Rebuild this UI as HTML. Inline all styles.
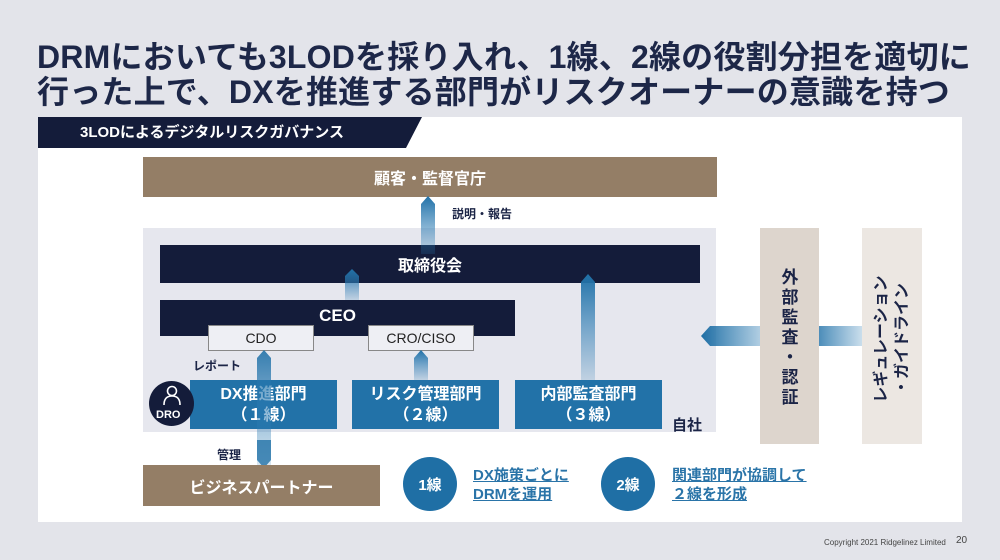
<!DOCTYPE html>
<html><head><meta charset="utf-8"><style>
*{margin:0;padding:0;box-sizing:border-box}
body{width:1000px;height:560px;background:#e3e4ea;position:relative;overflow:hidden;font-family:"Liberation Sans","Noto Sans CJK JP",sans-serif;color:#1b2446}
.a{position:absolute}
.t{font-size:32px;font-weight:bold;left:37px;letter-spacing:0.2px;white-space:nowrap;color:#1d2748}
.c{display:flex;align-items:center;justify-content:center;text-align:center;font-weight:bold}
.navy{background:#141c3a;color:#fff}
.blue{background:#2272a8;color:#fff}
.brown{background:#947e66;color:#fff}
.lk{color:#2a74a8;text-decoration:underline;font-weight:bold;font-size:15px;line-height:19px}
.circ{border-radius:50%;background:#1f6fa5;color:#fff}
</style></head><body>
<div class="a t" style="top:32px">DRMにおいても3LODを採り入れ、1線、2線の役割分担を適切に</div>
<div class="a t" style="top:67px">行った上で、DXを推進する部門がリスクオーナーの意識を持つ</div>

<div class="a" style="left:38px;top:117px;width:924px;height:405px;background:#fff"></div>
<svg class="a" style="left:38px;top:117px" width="385" height="31"><polygon points="0,0 384,0 368,31 0,31" fill="#141c3a"/></svg>
<div class="a" style="left:80px;top:121px;color:#fff;font-weight:bold;font-size:15px">3LODによるデジタルリスクガバナンス</div>

<div class="a c brown" style="left:143px;top:157px;width:574px;height:40px;font-size:16px">顧客・監督官庁</div>
<div class="a" style="left:452px;top:205px;font-size:12px;font-weight:bold">説明・報告</div>

<div class="a" style="left:143px;top:228px;width:573px;height:204px;background:#e6e7ee"></div>
<div class="a c navy" style="left:160px;top:245px;width:540px;height:38px;font-size:16px">取締役会</div>
<div class="a c navy" style="left:160px;top:300px;width:355px;height:36px;font-size:17px;align-items:flex-start;padding-top:6px">CEO</div>
<div class="a c" style="left:208px;top:325px;width:106px;height:26px;background:#eeeff4;border:1px solid #888;font-size:14px;font-weight:normal;color:#222">CDO</div>
<div class="a c" style="left:368px;top:325px;width:106px;height:26px;background:#eeeff4;border:1px solid #888;font-size:14px;font-weight:normal;color:#222">CRO/CISO</div>

<div class="a" style="left:193px;top:357px;font-size:12px;font-weight:bold">レポート</div>
<div class="a c blue" style="left:190px;top:380px;width:147px;height:49px;font-size:16px;line-height:21px">DX推進部門<br>（１線）</div>
<div class="a c blue" style="left:352px;top:380px;width:147px;height:49px;font-size:16px;line-height:21px">リスク管理部門<br>（２線）</div>
<div class="a c blue" style="left:515px;top:380px;width:147px;height:49px;font-size:16px;line-height:21px">内部監査部門<br>（３線）</div>
<div class="a" style="left:672px;top:414px;font-size:15px;font-weight:bold">自社</div>
<div class="a navy" style="left:149px;top:381px;width:45px;height:45px;border-radius:50%"></div>
<svg class="a" style="left:160px;top:384px" width="24" height="24"><circle cx="12" cy="7" r="4.5" fill="none" stroke="#fff" stroke-width="1.6"/><path d="M4 21 Q4 12 12 12 Q20 12 20 21" fill="none" stroke="#fff" stroke-width="1.6"/></svg>
<div class="a" style="left:156px;top:409px;color:#fff;font-size:11px;font-weight:bold">DRO</div>
<div class="a" style="left:217px;top:446px;font-size:12px;font-weight:bold">管理</div>

<svg class="a" style="left:0;top:0" width="1000" height="560">
<defs>
<linearGradient id="gv" x1="0" y1="1" x2="0" y2="0"><stop offset="0" stop-color="#2a7ab2" stop-opacity=".2"/><stop offset=".5" stop-color="#2a7ab2" stop-opacity=".6"/><stop offset="1" stop-color="#2272a8"/></linearGradient>
<linearGradient id="gh" x1="1" y1="0" x2="0" y2="0"><stop offset="0" stop-color="#2a7ab2" stop-opacity=".25"/><stop offset="1" stop-color="#1f6fa5"/></linearGradient>
</defs>
<path d="M421 254 V204 L428 196 L435 204 V254Z" fill="url(#gv)"/>
<path d="M345 300 V276 L352 269 L359 276 V300Z" fill="url(#gv)"/>
<path d="M581 380 V282 L588 274 L595 282 V380Z" fill="url(#gv)"/>
<path d="M414 380 V358 L421 350 L428 358 V380Z" fill="url(#gv)"/>
<path d="M257 465 V358 L264 350 L271 358 V465Z" fill="url(#gv)" opacity=".9"/>
<path d="M257 440 V460 L264 468 L271 460 V440Z" fill="#2272a8" opacity=".8"/>
<path d="M701 336 L710 326 H763 L771 336 L763 346 H710Z" fill="url(#gh)"/>
<path d="M804 336 L813 326 H862 V346 H813Z" fill="url(#gh)"/>
</svg>

<div class="a" style="left:760px;top:228px;width:59px;height:216px;background:#ddd5cd"></div>
<div class="a" style="left:780px;top:268px;width:20px;font-size:17px;font-weight:bold;line-height:20px;text-align:center">外<br>部<br>監<br>査<br>・<br>認<br>証</div>
<div class="a" style="left:862px;top:228px;width:60px;height:216px;background:#ece7e2"></div>
<div class="a" style="left:812px;top:318px;width:160px;height:42px;transform:rotate(-90deg);font-size:16px;font-weight:bold;line-height:21px;text-align:center;white-space:nowrap">レギュレーション<br>・ガイドライン</div>

<div class="a c brown" style="left:143px;top:465px;width:237px;height:41px;font-size:16px">ビジネスパートナー</div>
<div class="a c circ" style="left:403px;top:457px;width:54px;height:54px;font-size:15px">1線</div>
<div class="a lk" style="left:473px;top:466px">DX施策ごとに<br>DRMを運用</div>
<div class="a c circ" style="left:601px;top:457px;width:54px;height:54px;font-size:15px">2線</div>
<div class="a lk" style="left:672px;top:466px">関連部門が協調して<br>２線を形成</div>

<div class="a" style="left:824px;top:538px;font-size:8px;color:#444">Copyright 2021 Ridgelinez Limited</div>
<div class="a" style="left:956px;top:535px;font-size:10px;color:#444">20</div>
</body></html>
